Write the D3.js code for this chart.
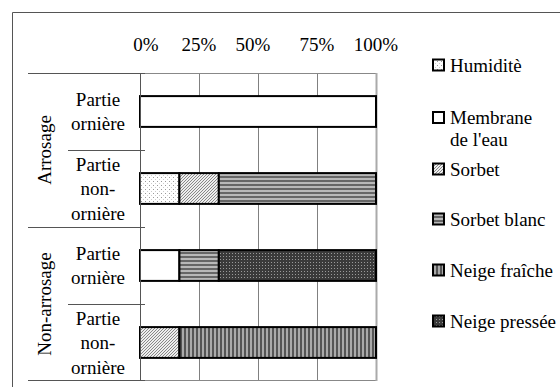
<!DOCTYPE html>
<html>
<head>
<meta charset="utf-8">
<script src="https://cdn.jsdelivr.net/npm/d3@7"></script>
<style>
  html, body { margin: 0; padding: 0; background: #fff; }
  svg { display: block; }
</style>
</head>
<body>
<svg id="chart" width="560" height="387"></svg>
<script>
// Rows (top to bottom), their group and two/three-line labels
const rowKeys = ["A-orn", "A-non", "N-orn", "N-non"];
const rowLabels = [
  ["Partie", "ornière"],
  ["Partie", "non-", "ornière"],
  ["Partie", "ornière"],
  ["Partie", "non-", "ornière"]
];
const groups = ["Arrosage", "Non-arrosage"];
const groupRows = [["A-orn", "A-non"], ["N-orn", "N-non"]];

// Shares (%) of each surface state per row
const seriesNames = ["Humiditè", "Membrane de l'eau", "Sorbet", "Sorbet blanc", "Neige fraîche", "Neige pressée"];
const humidite     = [0, 16.7, 0, 0];
const membrane     = [100, 0, 16.7, 0];
const sorbet       = [0, 16.7, 0, 16.7];
const sorbetBlanc  = [0, 66.6, 16.7, 0];
const neigeFraiche = [0, 0, 0, 83.3];
const neigePressee = [0, 0, 66.6, 0];
const seriesValues = [humidite, membrane, sorbet, sorbetBlanc, neigeFraiche, neigePressee];

const tickValues = [0, 25, 50, 75, 100];
const tickLabels = ["0%", "25%", "50%", "75%", "100%"];

const FONT = 19;
const FAMILY = "'Liberation Serif', 'Times New Roman', Times, 'DejaVu Serif', serif";

const svg = d3.select("#chart")
  .attr("font-family", FAMILY)
  .style("font-family", FAMILY);

// Fill patterns
const defs = svg.append("defs");
const patternIds = ["p-hum", "p-mem", "p-sor", "p-sbl", "p-nfr", "p-npr"];

let p = defs.append("pattern").attr("id", "p-hum").attr("patternUnits", "userSpaceOnUse").attr("width", 4).attr("height", 4);
p.append("rect").attr("width", 4).attr("height", 4).attr("fill", "#fff");
p.append("rect").attr("x", 1).attr("y", 1).attr("width", 1).attr("height", 1).attr("fill", "#999");
p.append("rect").attr("x", 3).attr("y", 3).attr("width", 1).attr("height", 1).attr("fill", "#ccc");

p = defs.append("pattern").attr("id", "p-mem").attr("patternUnits", "userSpaceOnUse").attr("width", 4).attr("height", 4);
p.append("rect").attr("width", 4).attr("height", 4).attr("fill", "#fff");

p = defs.append("pattern").attr("id", "p-sor").attr("patternUnits", "userSpaceOnUse").attr("width", 3).attr("height", 3);
p.append("rect").attr("width", 3).attr("height", 3).attr("fill", "#eee");
p.append("path").attr("d", "M0,3 L3,0 M-1,1 L1,-1 M2,4 L4,2").attr("stroke", "#888").attr("stroke-width", 1);

p = defs.append("pattern").attr("id", "p-sbl").attr("patternUnits", "userSpaceOnUse").attr("width", 4).attr("height", 4);
p.append("rect").attr("width", 4).attr("height", 4).attr("fill", "#b8b8b8");
p.append("rect").attr("y", 0).attr("width", 4).attr("height", 2).attr("fill", "#666");

p = defs.append("pattern").attr("id", "p-nfr").attr("patternUnits", "userSpaceOnUse").attr("width", 4).attr("height", 4);
p.append("rect").attr("width", 4).attr("height", 4).attr("fill", "#aaa");
p.append("rect").attr("x", 0).attr("width", 2).attr("height", 4).attr("fill", "#555");

p = defs.append("pattern").attr("id", "p-npr").attr("patternUnits", "userSpaceOnUse").attr("width", 3).attr("height", 3);
p.append("rect").attr("width", 3).attr("height", 3).attr("fill", "#3a3a3a");
p.append("rect").attr("x", 1).attr("y", 1).attr("width", 1).attr("height", 1).attr("fill", "#999");

// Outer chart frame (continues past the right and bottom edges)
svg.append("path").attr("d", "M12.5,400 V12.5 H600").attr("fill", "none").attr("stroke", "#555").attr("stroke-width", 1);

// Scales
const plotLeft = 140, plotRight = 376, plotTop = 73, plotBottom = 381;
const x = d3.scaleLinear().domain([0, 100]).range([plotLeft, plotRight]);
const y = d3.scaleBand().domain(rowKeys).range([plotTop, plotBottom]).paddingInner(0.6).paddingOuter(0.3);
const step = y.step();

// Vertical gridlines
svg.append("g").selectAll("line").data(tickValues.slice(1, -1)).join("line")
  .attr("x1", d => Math.round(x(d)) + 0.5).attr("x2", d => Math.round(x(d)) + 0.5)
  .attr("y1", plotTop).attr("y2", plotBottom)
  .attr("stroke", "#808080").attr("stroke-width", 1);

// Plot frame
svg.append("rect")
  .attr("x", plotLeft + 0.5).attr("y", plotTop + 0.5)
  .attr("width", plotRight - plotLeft).attr("height", plotBottom - plotTop - 1)
  .attr("fill", "none").attr("stroke", "#888").attr("stroke-width", 1);
svg.append("line").attr("x1", plotRight + 0.5).attr("x2", plotRight + 0.5)
  .attr("y1", plotTop).attr("y2", plotBottom).attr("stroke", "#aaa").attr("stroke-width", 2);

// Stacked bars
const table = rowKeys.map((k, i) => {
  const o = { row: k };
  seriesNames.forEach((s, j) => { o[s] = seriesValues[j][i]; });
  return o;
});
const stacked = d3.stack().keys(seriesNames)(table);

const barG = svg.append("g");
stacked.forEach((layer, j) => {
  barG.selectAll(null).data(layer.filter(d => d[1] - d[0] > 0)).join("rect")
    .attr("x", d => x(d[0]))
    .attr("y", d => y(d.data.row))
    .attr("width", d => x(d[1]) - x(d[0]))
    .attr("height", y.bandwidth())
    .attr("fill", `url(#${patternIds[j]})`)
    .attr("stroke", "#000").attr("stroke-width", 2);
});

// Category axis: left line and row separators
const axisG = svg.append("g").attr("stroke", "#555").attr("stroke-width", 1);
axisG.append("line").attr("x1", plotLeft + 0.5).attr("x2", plotLeft + 0.5).attr("y1", plotTop).attr("y2", plotBottom);
const boundaries = rowKeys.map(k => y(k) - (step - y.bandwidth()) / 2);
boundaries.push(plotBottom - 1);
boundaries.forEach((b, i) => {
  const groupEdge = (i % 2 === 0);
  const yy = Math.round(b) + 0.5;
  axisG.append("line")
    .attr("x1", groupEdge ? 28 : 68).attr("x2", 145)
    .attr("y1", yy).attr("y2", yy);
});

// Row labels
const lineH = 24.5;
rowKeys.forEach((k, i) => {
  const cy = y(k) + y.bandwidth() / 2;
  const lines = rowLabels[i];
  const t = svg.append("text").attr("text-anchor", "middle").attr("font-size", FONT);
  lines.forEach((ln, li) => {
    t.append("tspan").attr("x", 98)
      .attr("y", cy + (li - (lines.length - 1) / 2) * lineH)
      .attr("dy", "0.35em").text(ln);
  });
});

// Group labels (rotated)
groups.forEach((g, i) => {
  const rs = groupRows[i];
  const cy = (y(rs[0]) + y(rs[rs.length - 1]) + y.bandwidth()) / 2;
  svg.append("text")
    .attr("transform", `translate(44,${cy}) rotate(-90)`)
    .attr("text-anchor", "middle").attr("dy", "0.35em")
    .attr("font-size", FONT).text(g);
});

// Top value axis labels
svg.append("g").selectAll("text").data(tickValues).join("text")
  .attr("x", d => x(d) + (d === 0 ? 6 : 0) - (d === 50 ? 5 : 0))
  .attr("y", 51)
  .attr("text-anchor", "middle").attr("font-size", FONT)
  .text((d, i) => tickLabels[i]);

// Legend
const legendY = [65, 117.5, 169, 219, 270, 321];
const lg = svg.append("g");
seriesNames.forEach((s, j) => {
  const cy = legendY[j];
  lg.append("rect").attr("x", 433).attr("y", cy - 5.5).attr("width", 11).attr("height", 11)
    .attr("fill", `url(#${patternIds[j]})`).attr("stroke", "#000").attr("stroke-width", 2);
  const t = lg.append("text").attr("font-size", FONT);
  if (s === "Membrane de l'eau") {
    t.append("tspan").attr("x", 450).attr("y", cy).attr("dy", "0.35em").text("Membrane");
    t.append("tspan").attr("x", 450).attr("y", cy + 22).attr("dy", "0.35em").text("de l'eau");
  } else {
    t.append("tspan").attr("x", 450).attr("y", cy).attr("dy", "0.35em").text(s);
  }
});
</script>
</body>
</html>
